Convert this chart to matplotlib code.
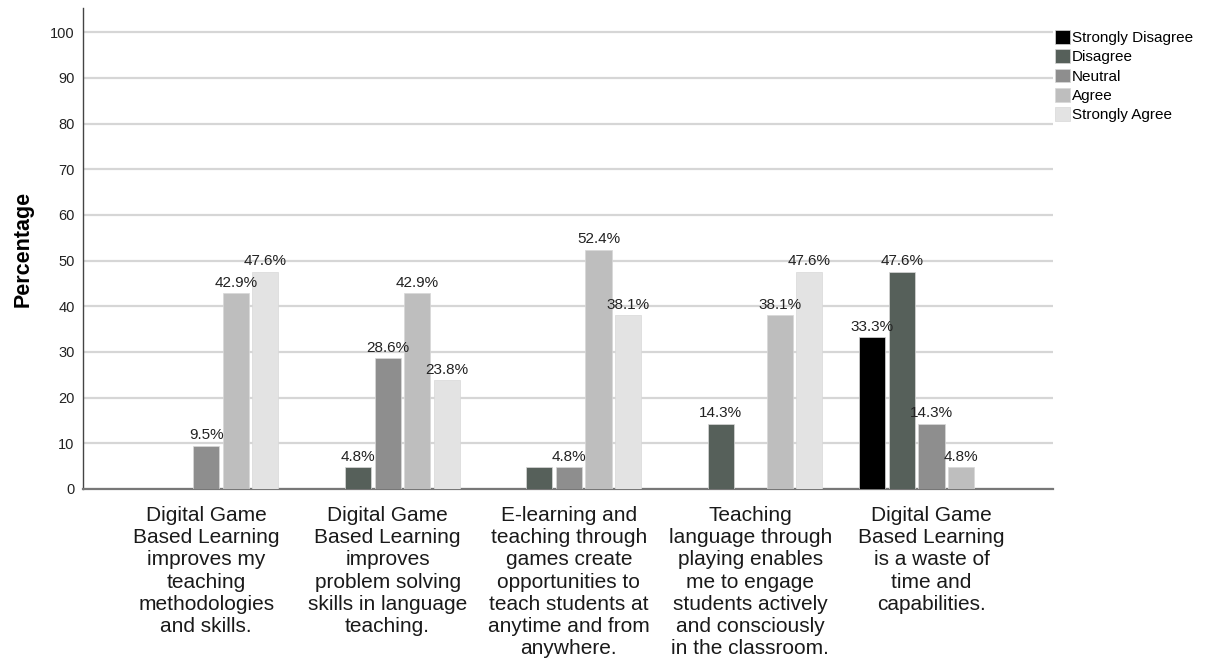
import numpy as np
import matplotlib
matplotlib.use("Agg")
import matplotlib.pyplot as plt

plt.rcParams['font.family'] = ['Liberation Sans', 'DejaVu Sans']

# survey items (x axis)
statements = [
    "Digital Game\nBased Learning\nimproves my\nteaching\nmethodologies\nand skills.",
    "Digital Game\nBased Learning\nimproves\nproblem solving\nskills in language\nteaching.",
    "E-learning and\nteaching through\ngames create\nopportunities to\nteach students at\nanytime and from\nanywhere.",
    "Teaching\nlanguage through\nplaying enables\nme to engage\nstudents actively\nand consciously\nin the classroom.",
    "Digital Game\nBased Learning\nis a waste of\ntime and\ncapabilities.",
]

responses = ["Strongly Disagree", "Disagree", "Neutral", "Agree", "Strongly Agree"]

# percentages per response, one value per statement
strongly_disagree = [0, 0, 0, 0, 33.3]
disagree = [0, 4.8, 4.8, 14.3, 47.6]
neutral = [9.5, 28.6, 4.8, 0, 14.3]
agree = [42.9, 42.9, 52.4, 38.1, 4.8]
strongly_agree = [47.6, 23.8, 38.1, 47.6, 0]

# labels the original chart hides (overlap) -> (response index, statement index)
hidden_labels = [(1, 2)]

colors = ["#000000", "#56605a", "#8e8e8e", "#bebebe", "#e3e3e3"]

series = [strongly_disagree, disagree, neutral, agree, strongly_agree]

fig = plt.figure(figsize=(12.06, 6.6), dpi=100)
ax = fig.add_axes([83 / 1206, 1 - 489 / 660, (1053 - 83) / 1206, (489 - 8) / 660])

x = np.arange(len(statements))
pitch = 0.163
width = 0.144

for i, (vals, name, col) in enumerate(zip(series, responses, colors)):
    vals = np.array(vals, dtype=float)
    pos = x + (i - 2) * pitch
    mask = vals > 0
    ax.bar(pos[mask], vals[mask], width=width, color=col, label=name,
           edgecolor="#d8d8d8", linewidth=0.5, zorder=3)
    for j in np.where(mask)[0]:
        if (i, j) in hidden_labels:
            continue
        ax.text(pos[j], vals[j] + 0.7, f"{vals[j]:.1f}%", ha="center", va="bottom",
                fontsize=11, color="#222222", zorder=4)

ax.set_xlim(-0.68, 4.67)
ax.set_ylim(0, 105.3)
ax.set_yticks(range(0, 101, 10))
ax.set_xticks(x)
ax.set_xticklabels(statements, fontsize=15, color="#1a1a1a", linespacing=1.22)
ax.tick_params(axis="x", length=0, pad=12)
ax.tick_params(axis="y", length=0, labelsize=10.5, pad=6, colors="#222222")
ax.set_ylabel("Percentage", fontsize=15.5, fontweight="bold", labelpad=12)

ax.grid(axis="y", color="#d6d6d6", linewidth=1.6, zorder=0)
ax.set_axisbelow(True)
for s in ["top", "right"]:
    ax.spines[s].set_visible(False)
ax.spines["left"].set_color("#444444")
ax.spines["left"].set_linewidth(1.0)
ax.spines["bottom"].set_color("#777777")
ax.spines["bottom"].set_linewidth(1.6)

fig.legend(loc="upper left", bbox_to_anchor=(1055 / 1206, 1 - 30 / 660),
           frameon=False, fontsize=11, handlelength=1.0, handleheight=1.0,
           handletextpad=0.12, labelspacing=0.28, borderpad=0, borderaxespad=0)

fig.savefig("out.png", dpi=100)
